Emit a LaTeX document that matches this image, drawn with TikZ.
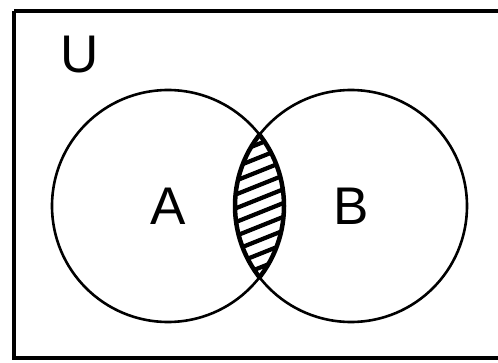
\documentclass[tikz,border=0pt]{standalone}
\usepackage{fontspec}
\setmainfont{Liberation Sans}
\begin{document}
\begin{tikzpicture}[x=1pt,y=-1pt,
  setcircle/.style={circle,draw,line width=2.6pt,minimum size=232pt,inner sep=0pt,
    font=\fontsize{53}{60}\selectfont},
  hatchline/.style={line width=4.2pt},
  lensborder/.style={line width=4.5pt}]
\useasboundingbox (0,0) rectangle (498,362);
\draw[line width=4pt] (14,11) -- (510,11) (14,11) -- (14,358) -- (510,358);
\node[font=\fontsize{53}{60}\selectfont] (U) at (80,55) {U};
\node[setcircle] (A) at (168,206) {A};
\node[setcircle] (B) at (351,206) {B};
\begin{scope}
  \clip (168,206) circle (116);
  \clip (351,206) circle (116);
  \foreach \k in {0,...,14} {
    \draw[hatchline] (220,{118+13.8*\k}) -- (300,{118+13.8*\k-32});
  }
\end{scope}
\begin{scope}
  \clip (168,206) circle (117.3);
  \draw[lensborder] (351,206) circle (116);
\end{scope}
\begin{scope}
  \clip (351,206) circle (117.3);
  \draw[lensborder] (168,206) circle (116);
\end{scope}
\end{tikzpicture}
\end{document}
